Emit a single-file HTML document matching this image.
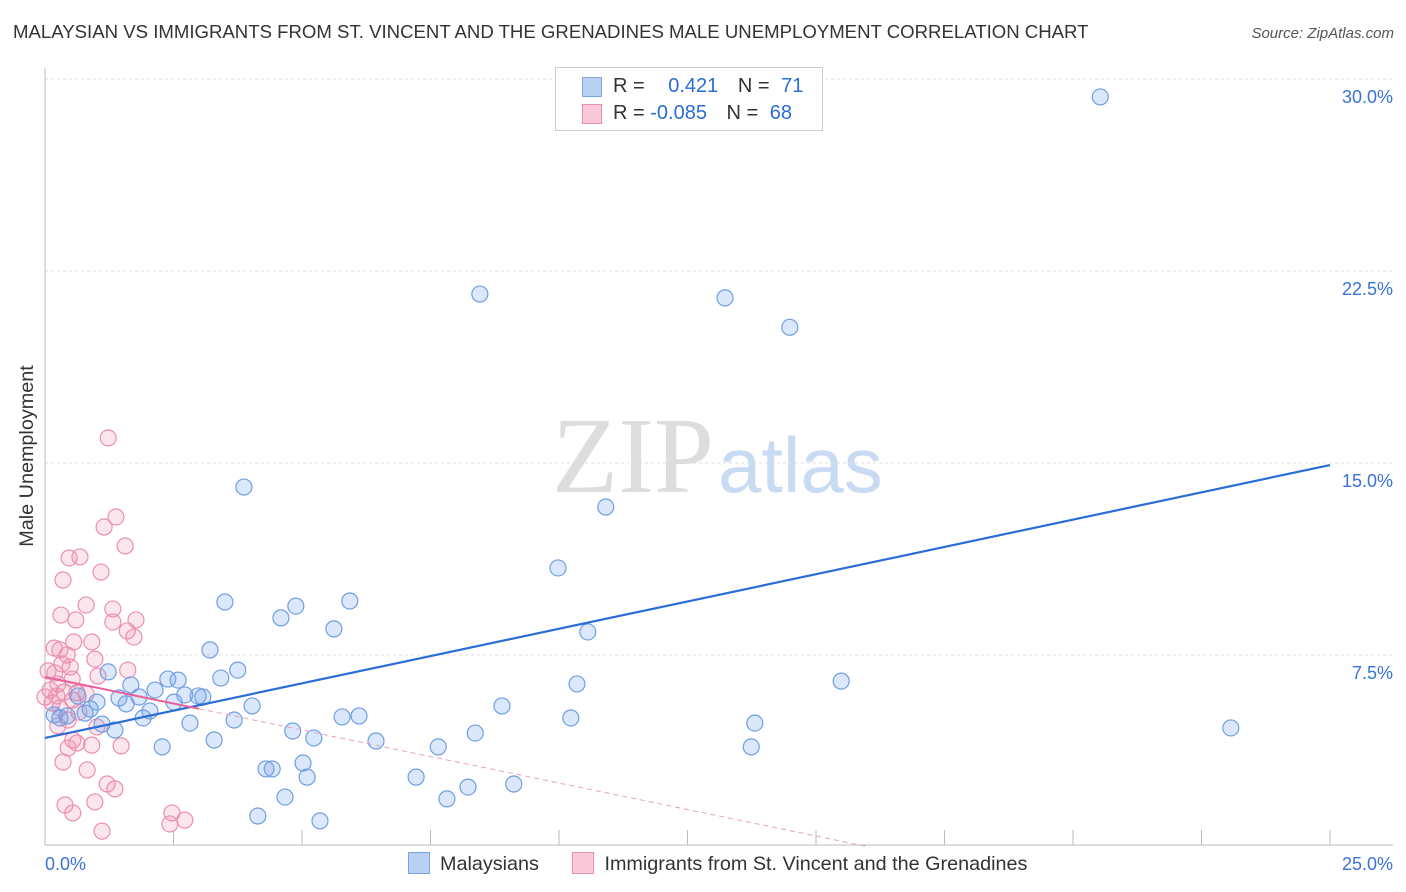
<!DOCTYPE html>
<html><head><meta charset="utf-8">
<style>
body{margin:0;background:#fff;font-family:"Liberation Sans",sans-serif;}
#wrap{position:relative;width:1406px;height:892px;overflow:hidden;}
.t{position:absolute;white-space:nowrap;}
</style></head><body>
<div id="wrap">
<div class="t" style="left:13px;top:21px;font-size:18.6px;color:#333;">MALAYSIAN VS IMMIGRANTS FROM ST. VINCENT AND THE GRENADINES MALE UNEMPLOYMENT CORRELATION CHART</div>
<div class="t" style="right:12px;top:25px;font-size:15px;color:#555;font-style:italic;">Source: ZipAtlas.com</div>
<svg id="svg" width="1406" height="892" style="position:absolute;left:0;top:0"></svg>
</div>
<script>
const xTicksPct=[0,2.5,5,7.5,10,12.5,15,17.5,20,22.5,25];
const yTickVals=[7.5,15,22.5,30];
const yTickLabels=["7.5%","15.0%","22.5%","30.0%"];
const blueX=[20.53,8.46,13.23,14.49,3.87,10.91,9.98,3.50,5.93,4.88,4.59,5.62,10.56,3.21,3.75,1.23,3.42,2.39,2.59,15.49,10.35,1.67,2.14,2.72,2.98,3.07,0.64,1.44,1.83,1.01,1.58,2.51,4.03,8.89,0.88,2.04,0.78,0.18,0.43,1.91,3.68,5.78,6.11,10.23,2.82,13.81,23.07,1.11,1.36,4.82,8.37,5.23,3.29,6.44,2.28,7.65,13.74,5.02,4.30,4.42,5.10,7.22,8.23,9.12,4.67,7.82,4.14,5.35,0.29];
const blueY=[29.3,21.6,21.45,20.3,14.06,13.28,10.9,9.57,9.61,9.41,8.95,8.52,8.40,7.70,6.91,6.84,6.60,6.56,6.52,6.48,6.37,6.33,6.13,5.94,5.90,5.86,5.90,5.82,5.86,5.66,5.59,5.66,5.51,5.51,5.39,5.31,5.23,5.16,5.12,5.04,4.96,5.08,5.12,5.04,4.84,4.84,4.65,4.80,4.57,4.53,4.45,4.26,4.18,4.14,3.91,3.91,3.91,3.28,3.05,3.05,2.73,2.73,2.34,2.46,1.95,1.88,1.21,1.02,5.04];
const pinkX=[1.23,1.38,1.15,1.56,0.47,0.68,1.09,0.35,0.80,1.32,0.31,0.60,1.32,1.77,1.60,1.73,0.91,0.56,0.18,0.29,0.43,0.97,0.33,0.49,1.61,0.06,0.19,1.03,0.53,0.25,0.10,0.37,0.62,0.23,0.80,0.0,0.54,0.14,0.29,0.66,0.45,1.01,0.25,0.54,0.62,0.45,0.91,1.48,0.35,0.82,1.21,1.36,0.39,0.97,0.54,2.47,2.72,2.43,1.11];
const pinkY=[15.98,12.89,12.5,11.76,11.29,11.33,10.74,10.43,9.45,9.30,9.06,8.87,8.79,8.87,8.44,8.20,8.01,8.01,7.77,7.70,7.50,7.34,7.15,7.03,6.91,6.88,6.80,6.68,6.56,6.37,6.13,6.05,6.02,5.90,5.98,5.86,5.74,5.63,5.43,5.27,4.96,4.69,4.73,4.18,4.06,3.87,3.98,3.95,3.32,3.01,2.46,2.27,1.64,1.76,1.33,1.33,1.05,0.90,0.62];
const blueLine=[4.26,14.92];   // y at x=0 and x=25
const pinkLine=[6.64,-0.414];  // intercept, slope

const X=v=>45+v*51.4;
const Y=v=>847-v*25.6;
const svg=document.getElementById('svg');
const NS='http://www.w3.org/2000/svg';
function mk(tag,attrs){const e=document.createElementNS(NS,tag);for(const k in attrs)e.setAttribute(k,attrs[k]);svg.appendChild(e);return e;}

let w1=mk('text',{x:552,y:492,'font-size':108,'font-family':'Liberation Serif,serif',fill:'#ddd'});w1.textContent='ZIP';


let w2=mk('text',{x:718,y:492,'font-size':78,'font-family':'Liberation Sans,sans-serif',fill:'#c9daf3'});w2.textContent='atlas';



yTickVals.forEach((v,i)=>{
 let g=mk('line',{x1:45,x2:1393,y1:Y(v),y2:Y(v),stroke:'#ddd','stroke-dasharray':'3,3'});
 
 
 let t=mk('text',{x:1393,y:Y(v)+24,'text-anchor':'end','font-size':18,fill:'#3a72d8'});t.textContent=yTickLabels[i];
 
 
});
let ax=mk('line',{x1:45,x2:1393,y1:845,y2:845,stroke:'#bbb'});


let ay=mk('line',{x1:45,x2:45,y1:68,y2:845,stroke:'#bbb'});


xTicksPct.forEach(v=>{
 let t=mk('line',{x1:X(v),x2:X(v),y1:830,y2:845,stroke:'#bbb'});
 
 
});
let xl0=mk('text',{x:45,y:870,'font-size':18,fill:'#3a72d8'});xl0.textContent='0.0%';


let xl1=mk('text',{x:1393,y:870,'text-anchor':'end','font-size':18,fill:'#3a72d8'});xl1.textContent='25.0%';


let yt=mk('text',{x:33,y:456,'font-size':19.8,fill:'#333',transform:'rotate(-90 33 456)','text-anchor':'middle'});yt.textContent='Male Unemployment';



pinkX.forEach((v,i)=>{
 let c=mk('circle',{cx:X(v),cy:Y(pinkY[i]),r:8,fill:'rgba(240,140,175,0.22)',stroke:'#ea8fb0','stroke-width':1.2});
 
 
});
blueX.forEach((v,i)=>{
 let c=mk('circle',{cx:X(v),cy:Y(blueY[i]),r:8,fill:'rgba(110,160,235,0.25)',stroke:'#6f9fe2','stroke-width':1.2});
 
 
});
let bl=mk('line',{x1:X(0),y1:Y(blueLine[0]),x2:X(25),y2:Y(blueLine[1]),stroke:'#2a6dd6','stroke-width':2.2});


let pl=mk('line',{x1:X(0),y1:Y(pinkLine[0]),x2:X(3),y2:Y(pinkLine[0]+pinkLine[1]*3),stroke:'#e8609a','stroke-width':2});


const xe=-pinkLine[0]/pinkLine[1];
let pd=mk('line',{x1:X(3),y1:Y(pinkLine[0]+pinkLine[1]*3),x2:X(xe),y2:Y(0),stroke:'#e8a0bd','stroke-width':1,'stroke-dasharray':'5,4'});


</script>
<div class="t" style="left:555px;top:67px;width:266px;height:62px;border:1px solid #ccc;background:#fff;font-size:20px;color:#333;">
 <div style="position:absolute;left:26px;top:9px;width:18px;height:18px;background:#b9d0f3;border:1px solid #7aa5e6"></div>
 <div class="t" style="left:57px;top:7px">R = <span style="color:#2a6dd6;margin-left:18px">0.421</span> <span style="margin-left:14px">N =</span> <span style="color:#2a6dd6;margin-left:6px">71</span></div>
 <div style="position:absolute;left:26px;top:36px;width:18px;height:18px;background:#f9c9d9;border:1px solid #ea8fb0"></div>
 <div class="t" style="left:57px;top:34px">R = <span style="color:#2a6dd6">-0.085</span> <span style="margin-left:14px">N =</span> <span style="color:#2a6dd6;margin-left:6px">68</span></div>
</div>
<div class="t" style="left:408px;top:852px;font-size:19.8px;color:#333;">
 <span><span style="display:inline-block;width:20px;height:20px;background:#b9d0f3;border:1px solid #7aa5e6;vertical-align:-4px;margin-right:10px"></span>Malaysians</span>
 <span style="margin-left:28px"><span style="display:inline-block;width:20px;height:20px;background:#f9c9d9;border:1px solid #ea8fb0;vertical-align:-4px;margin-right:10px"></span>Immigrants from St. Vincent and the Grenadines</span>
</div>
</body></html>
